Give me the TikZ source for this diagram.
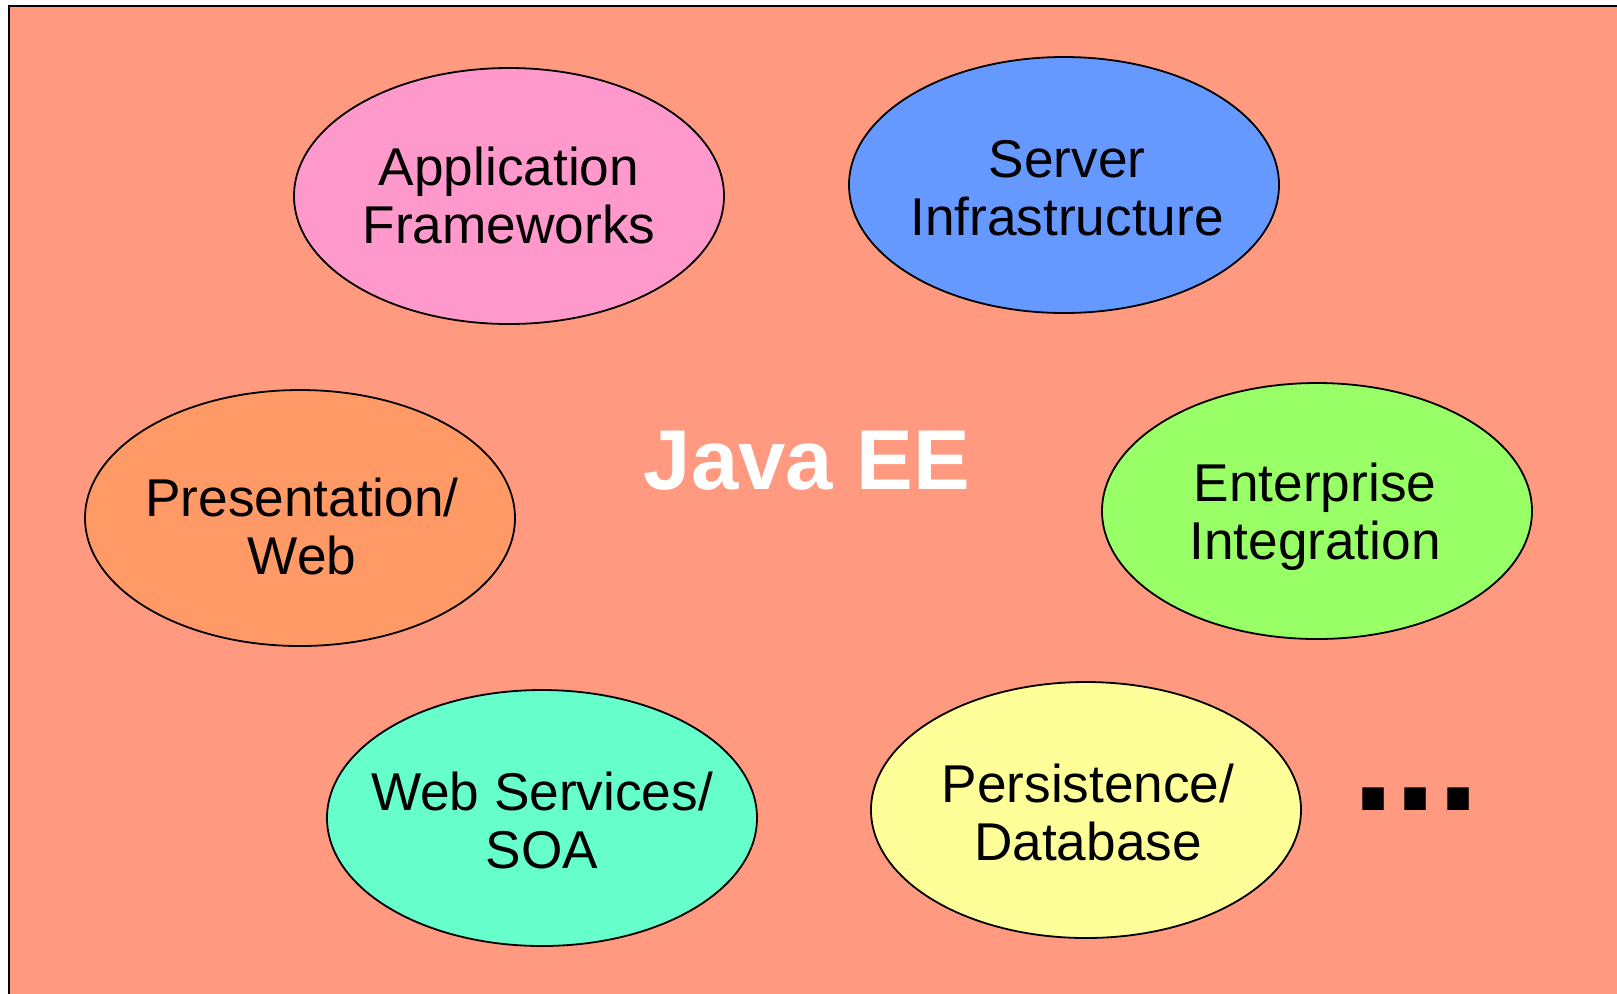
\documentclass[tikz,border=0pt]{standalone}
\usepackage{xcolor}
\usepackage{fontspec}
\setmainfont{Liberation Sans}
\usepackage{tikz}
\usetikzlibrary{shapes.geometric}

\definecolor{eeback}{HTML}{FF9980}
\definecolor{appcol}{HTML}{FF99CC}
\definecolor{servcol}{HTML}{6699FF}
\definecolor{prescol}{HTML}{FF9966}
\definecolor{entcol}{HTML}{99FF66}
\definecolor{wscol}{HTML}{66FFCC}
\definecolor{perscol}{HTML}{FFFF99}

\begin{document}
\begin{tikzpicture}[x=0.5pt, y=-0.5pt,
    area/.style={ellipse, draw, line width=0.9pt, minimum width=215pt, minimum height=128pt, inner sep=0pt},
    areatext/.style={inner sep=0pt, align=center, text depth=0pt, font=\fontsize{26.6}{29}\selectfont}]
            \useasboundingbox (0,0) rectangle (1617,993);
            \clip (0,0) rectangle (1617,993);

            % Frame
            \draw[fill=eeback, line width=1pt] (9,6) rectangle (1660,1040);

            % Nodes
            \node[inner sep=0pt, text=white, font=\fontsize{42.5}{50}\selectfont\bfseries] (javaee) at (807,461) {Java EE};
            \node[area, fill=appcol] (app) at (509,196) {};
            \node[area, fill=servcol] (server) at (1064,185) {};
            \node[area, fill=prescol] (pres) at (300,518) {};
            \node[area, fill=entcol] (ent) at (1317,511) {};
            \node[area, fill=wscol] (ws) at (542,818) {};
            \node[area, fill=perscol] (pers) at (1086,810) {};
            \node[inner sep=0pt, font=\fontsize{76}{80}\selectfont\bfseries] (more) at (1416,799) {...};

            % Labels
            \node[areatext] (app-text) at (509,195) {Application\\Frameworks};
            \node[areatext] (server-text) at (1067,188) {Server\\Infrastructure};
            \node[areatext] (pres-text) at (302,526) {Presentation/\\Web};
            \node[areatext] (ent-text) at (1315,511) {Enterprise\\Integration};
            \node[areatext] (ws-text) at (542,820) {Web Services/\\SOA};
            \node[areatext] (pers-text) at (1088,812) {Persistence/\\Database};
        \end{tikzpicture}
\end{document}
